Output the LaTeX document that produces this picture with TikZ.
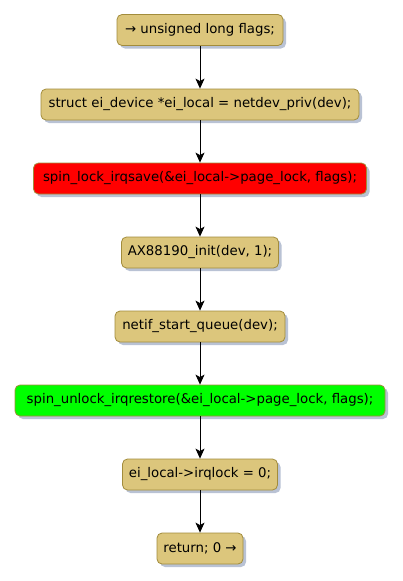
\documentclass[tikz,border=0pt]{standalone}
\usepackage{fontspec}
\setmainfont{DejaVu Sans}
\usetikzlibrary{arrows.meta,shadows}
\definecolor{boxfill}{HTML}{DCC67C}
\definecolor{boxdraw}{HTML}{A28C3C}
\definecolor{shadowc}{HTML}{8A9AB8}
\tikzset{
  act/.style={draw=boxdraw, line width=0.8pt, fill=boxfill, rounded corners=5pt,
    minimum height=31pt, inner xsep=5pt, inner ysep=0pt, align=center,
    font=\fontsize{13.3}{15}\selectfont,
    drop shadow={shadow xshift=3pt, shadow yshift=-3pt, fill=shadowc, opacity=0.6}},
  flow/.style={draw=black, line width=0.8pt, -{Stealth[length=10pt,width=9pt,inset=2.5pt]}}
}
\begin{document}
\begin{tikzpicture}[x=1pt,y=-1pt]
\useasboundingbox (0,0) rectangle (402,581);
\node[act, minimum width=166pt] (n1) at (200,30) {→ unsigned long flags;};
\node[act, minimum width=318pt] (n2) at (200,104.5) {struct ei\_device *ei\_local = netdev\_priv(dev);};
\node[act, minimum width=333pt, fill=red] (n3) at (200,178.5) {spin\_lock\_irqsave(\&ei\_local->page\_lock, flags);};
\node[act, minimum width=157pt] (n4) at (200,252.5) {AX88190\_init(dev, 1);};
\node[act, minimum width=170pt] (n5) at (200,326.5) {netif\_start\_queue(dev);};
\node[act, minimum width=370pt, fill={rgb,255:red,0;green,255;blue,0}] (n6) at (200,400.5) {spin\_unlock\_irqrestore(\&ei\_local->page\_lock, flags);};
\node[act, minimum width=155pt] (n7) at (200,474.5) {ei\_local->irqlock = 0;};
\node[act, minimum width=86pt] (n8) at (200,548.5) {return; 0 →};
\draw[flow] (n1) -- (n2);
\draw[flow] (n2) -- (n3);
\draw[flow] (n3) -- (n4);
\draw[flow] (n4) -- (n5);
\draw[flow] (n5) -- (n6);
\draw[flow] (n6) -- (n7);
\draw[flow] (n7) -- (n8);
\end{tikzpicture}
\end{document}
